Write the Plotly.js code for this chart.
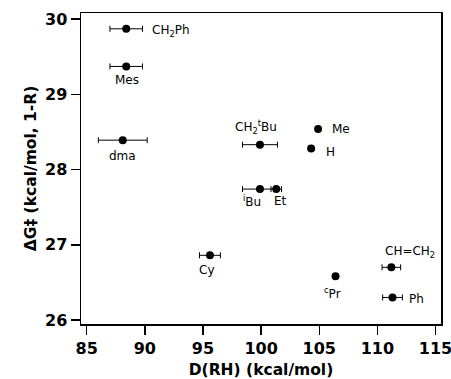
<!DOCTYPE html>
<html>
<head>
<meta charset="utf-8">
<script src="https://cdn.plot.ly/plotly-3.0.1.min.js"></script>
<style>html,body{margin:0;padding:0;background:#fff;}#chart{width:451px;height:379px;}</style>
</head>
<body>
<div id="chart"></div>
<script>
// Data
const labels = ['CH<sub>2</sub>Ph', 'Mes', 'dma', 'CH<sub>2</sub><sup>t</sup>Bu', 'Me', 'H',
                '<sup>i</sup>Bu', 'Et', 'Cy', 'CH=CH<sub>2</sub>', '<sup>c</sup>Pr', 'Ph'];
const bde = [88.4, 88.4, 88.1, 99.9, 104.9, 104.3, 99.9, 101.3, 95.6, 111.2, 106.4, 111.3];
const dG = [29.87, 29.37, 28.39, 28.33, 28.54, 28.28, 27.74, 27.74, 26.86, 26.70, 26.58, 26.30];
const bdeErr = [1.4, 1.4, 2.1, 1.5, 0, 0, 1.5, 0.45, 0.9, 0.8, 0, 0.85];
const xTicks = [85, 90, 95, 100, 105, 110, 115];
const yTicks = [26, 27, 28, 29, 30];

// Label placement (layout only)
const labelAnchor = ['left', 'center', 'center', 'center', 'left', 'left', 'center', 'center', 'center', 'center', 'center', 'left'];
const labelDx = [24, 1, 0, -4, 12, 13, -8, 4, -3, 19, -3, 14];
const labelDy = [-2, -14, -16, 18, 0, -4, -12, -12, -15, 15, -17, -2];

const trace = {
  x: bde, y: dG, type: 'scatter', mode: 'markers',
  marker: {color: '#000', size: 8},
  error_x: {type: 'data', array: bdeErr, visible: true, color: '#000', thickness: 1, width: 3},
  hoverinfo: 'skip'
};

const annotations = labels.map((t, i) => ({
  x: bde[i], y: dG[i], xref: 'x', yref: 'y', text: t, showarrow: false,
  xanchor: labelAnchor[i], yanchor: 'middle', xshift: labelDx[i], yshift: labelDy[i],
  font: {family: 'DejaVu Sans', size: 12, color: '#000'}
}));

const axisCommon = {
  showline: true, linewidth: 1.5, linecolor: '#000', mirror: true,
  ticks: 'outside', ticklen: 9, tickwidth: 1.5, tickcolor: '#000',
  showgrid: false, zeroline: false, automargin: false, ticklabeloverflow: 'allow',
  tickfont: {family: 'DejaVu Sans', size: 16, weight: 'bold', color: '#000'}
};

const layout = {
  width: 451, height: 379,
  margin: {l: 81, r: 10, t: 13, b: 55},
  paper_bgcolor: '#fff', plot_bgcolor: '#fff',
  showlegend: false,
  xaxis: Object.assign({}, axisCommon, {
    range: [84.51, 115.47], tickvals: xTicks, ticktext: xTicks.map(String),
    title: {text: 'D(RH) (kcal/mol)', font: {family: 'DejaVu Sans', size: 15.5, weight: 'bold', color: '#000'}, standoff: 11}
  }),
  yaxis: Object.assign({}, axisCommon, {
    range: [25.947, 30.08], tickvals: yTicks, ticktext: yTicks.map(String),
    title: {text: 'ΔG‡ (kcal/mol, 1-R)', font: {family: 'DejaVu Sans', size: 15.5, weight: 'bold', color: '#000'}, standoff: 4}
  }),
  annotations: annotations
};

Plotly.newPlot('chart', [trace], layout, {staticPlot: true, displayModeBar: false});
</script>
</body>
</html>
